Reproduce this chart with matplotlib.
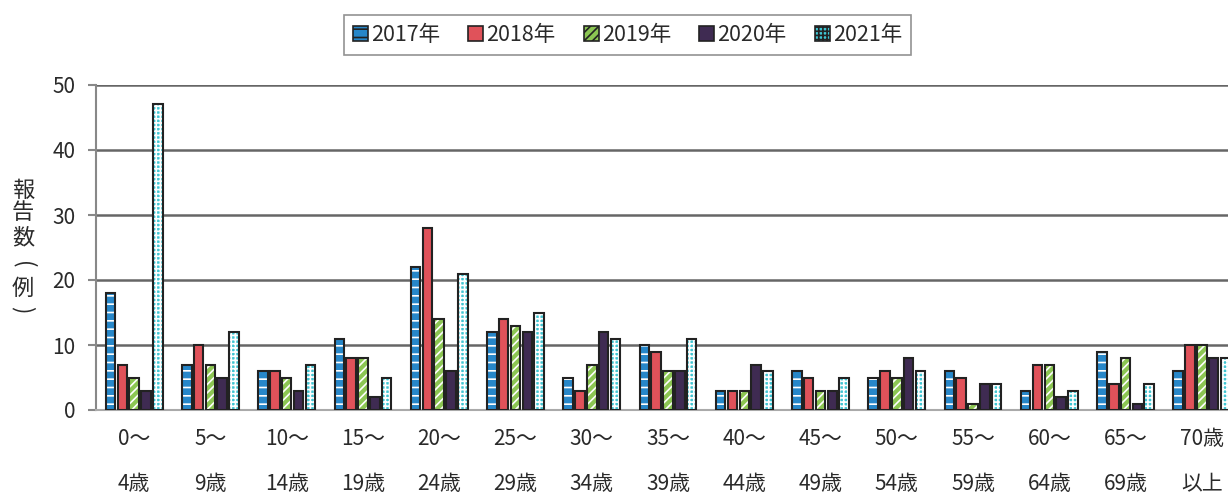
import matplotlib
matplotlib.use('Agg')
import matplotlib.pyplot as plt
import numpy as np
from matplotlib.patches import Patch

plt.rcParams['font.family'] = ['Noto Sans CJK JP', 'DejaVu Sans']
plt.rcParams['hatch.linewidth'] = 1.2

# データ
age_labels = ['0～\n4歳', '5～\n9歳', '10～\n14歳', '15～\n19歳', '20～\n24歳',
              '25～\n29歳', '30～\n34歳', '35～\n39歳', '40～\n44歳', '45～\n49歳',
              '50～\n54歳', '55～\n59歳', '60～\n64歳', '65～\n69歳', '70歳\n以上']
years = ['2017年', '2018年', '2019年', '2020年', '2021年']
y2017 = [18, 7, 6, 11, 22, 12, 5, 10, 3, 6, 5, 6, 3, 9, 6]
y2018 = [7, 10, 6, 8, 28, 14, 3, 9, 3, 5, 6, 5, 7, 4, 10]
y2019 = [5, 7, 5, 8, 14, 13, 7, 6, 3, 3, 5, 1, 7, 8, 10]
y2020 = [3, 5, 3, 2, 6, 12, 12, 6, 7, 3, 8, 4, 2, 1, 8]
y2021 = [47, 12, 7, 5, 21, 15, 11, 11, 6, 5, 6, 4, 3, 4, 8]
series = [y2017, y2018, y2019, y2020, y2021]
ylabel_chars = ['報', '告', '数', '(', '例', ')']

colors = ['#2787c9', '#e0525a', '#8cc653', '#3f2b52', '#3fc5d2']
hatches = ['--', None, '////', None, '++++']

fig = plt.figure(figsize=(12.28, 5), dpi=100)
ax = fig.add_axes([96 / 1228, 0.18, (1240 - 96) / 1228, 0.65])

x = np.arange(len(age_labels))
step = 0.155
w = 0.125
for i, (vals, c, h) in enumerate(zip(series, colors, hatches)):
    pos = x + (i - 2) * step
    # 塗り＋白いハッチ
    ax.bar(pos, vals, width=w, color=c, edgecolor='white', hatch=h,
           linewidth=0, zorder=3)
    # 枠線
    ax.bar(pos, vals, width=w, fill=False, edgecolor='#222222',
           linewidth=1.5, zorder=4)

ax.set_xlim(-0.5, 14.5)
ax.set_ylim(0, 50)
ax.set_yticks(range(0, 51, 10))
ax.yaxis.grid(True, color='#666666', linewidth=1.8, zorder=0)
ax.set_axisbelow(True)

for s in ['top', 'right']:
    ax.spines[s].set_visible(False)
ax.spines['left'].set_color('#888888')
ax.spines['left'].set_linewidth(1.5)
ax.spines['bottom'].set_color('#aaaaaa')
ax.spines['bottom'].set_linewidth(1.5)

ax.set_xticks(x)
ax.set_xticklabels(age_labels, fontsize=15, linespacing=2.35, color='#2a2a2a')
ax.tick_params(axis='x', length=0, pad=13)
ax.tick_params(axis='y', labelsize=15, colors='#2a2a2a', length=6,
               width=1.5, pad=9, color='#888888')

# 縦書きの軸ラベル
ycent = [190, 213, 238, 265, 288, 310]
for ch, yc in zip(ylabel_chars, ycent):
    rot = -90 if ch in '()' else 0
    fig.text(23 / 1228, 1 - yc / 500, ch, fontsize=16, color='#2a2a2a',
             ha='center', va='center', rotation=rot)

handles = []
for c, h in zip(colors, hatches):
    handles.append(Patch(facecolor=c, edgecolor='#222222', hatch=h, linewidth=1.2))
leg = fig.legend(handles, years, loc='center', bbox_to_anchor=(0.511, 0.93),
                 ncol=5, fontsize=15.5, frameon=True, fancybox=False,
                 handlelength=0.7, handleheight=0.7, handletextpad=0.15,
                 columnspacing=1.3, borderpad=0.4)
leg.get_frame().set_edgecolor('#777777')
leg.get_frame().set_linewidth(1.2)
for t in leg.get_texts():
    t.set_color('#2a2a2a')

fig.savefig('out.png', dpi=100)
